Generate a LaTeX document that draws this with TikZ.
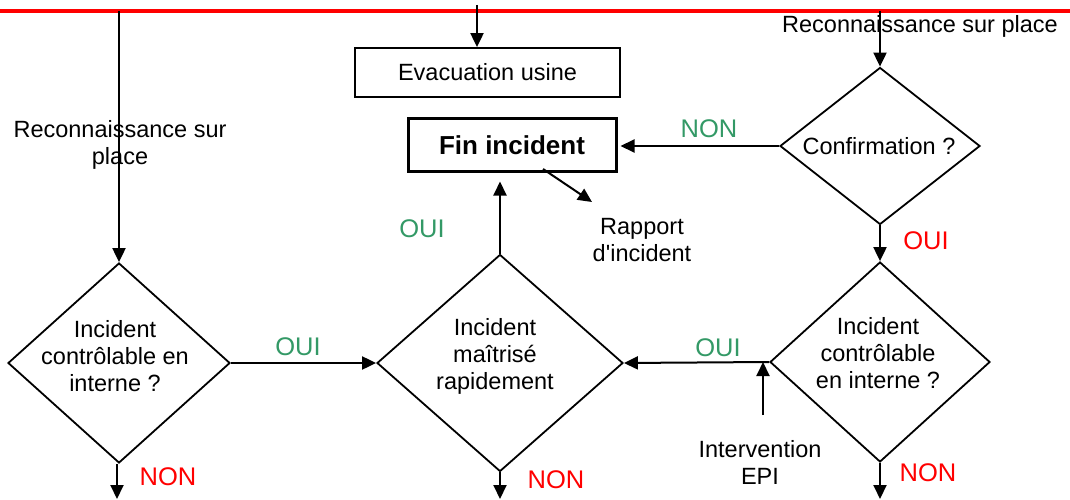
\documentclass[tikz,border=0pt]{standalone}
\usepackage{fontspec}
\setmainfont{Liberation Sans}
\usetikzlibrary{arrows.meta,shapes.geometric}
\definecolor{ouigreen}{RGB}{51,153,102}
\begin{document}
\begin{tikzpicture}[x=1pt,y=-1pt,
  every node/.style={font=\fontsize{23.5}{27}\selectfont, inner sep=0pt},
  flow/.style={line width=2pt, -{Triangle[length=14pt,width=13pt]}},
  decision/.style={draw, shape=diamond, line width=1.8pt, minimum width=#1},
  stepbox/.style={draw, rectangle, line width=1.8pt},
  yes/.style={text=ouigreen, font=\fontsize{25.5}{28}\selectfont},
  no/.style={text=red, font=\fontsize{25.5}{28}\selectfont},
  yesred/.style={text=red, font=\fontsize{25.5}{28}\selectfont},
  multi/.style={align=center}]
\useasboundingbox (0,0) rectangle (1070,500);

% alarm line across the top
\draw[red, line width=3.5pt] (0,11) -- (1070,11);

% boxes
\node[stepbox, minimum width=265, minimum height=49] (evac) at (487.5,72.5) {Evacuation usine};
\node[stepbox, line width=3pt, minimum width=208, minimum height=52,
      font=\fontsize{26}{28}\bfseries] (fin) at (512,145) {Fin incident};

% decisions
\node[decision=200, minimum height=157] (conf) at (880,146) {};
\node at (879,146) {Confirmation ?};

\node[decision=222, minimum height=200] (d1) at (119,363) {};
\node[multi] (d1t) at (115,356) {Incident\\contrôlable en\\interne ?};

\node[decision=246, minimum height=217] (d2) at (500,363) {};
\node[multi] (d2t) at (495,356) {Incident\\maîtrisé\\rapidement};

\node[decision=220, minimum height=200] (d3) at (880,362) {};
\node[multi] (d3t) at (878,353) {Incident\\contrôlable\\en interne ?};

% free ends
\coordinate (srcL) at (119,11);
\coordinate (srcM) at (477,5);
\coordinate (srcR) at (880,11);
\coordinate (rapStart) at (543,169);
\coordinate (rapEnd) at (592,202);
\coordinate (epiStart) at (763,415);
\coordinate (out1) at (117,499);
\coordinate (out2) at (500,499);
\coordinate (out3) at (880,499);

% side texts
\node[multi] (reconL) at (120,145) {Reconnaissance sur\\place};
\node (reconR) at (920,26) {Reconnaissance sur place};
\node[multi] (rapport) at (642,240) {Rapport\\d\textquotesingle incident};
\node[multi] (epi) at (760,462) {Intervention\\EPI};

% connectors
\draw[flow] (srcM) -- (srcM |- evac.north);
\draw[flow] (srcL) -- (d1.north);
\draw[flow] (srcR) -- (conf.north);
\draw[flow, shorten >=3pt] (conf.west) -- (conf.west -| fin.east);
\draw[flow] (conf.south) -- (d3.north);
\draw[flow] (d3.west) -- (d2.east);
\draw[flow] (epiStart) -- (epiStart |- d3.west);
\draw[flow] (d1.east) -- (d2.west);
\draw[flow, shorten >=9pt] (d2.north) -- (d2.north |- fin.south);
\draw[flow] (rapStart) -- (rapEnd);
\draw[flow] (d1.south -| out1) -- (out1);
\draw[flow] (d2.south) -- (out2);
\draw[flow] (d3.south) -- (out3);

% branch labels
\node[yes] at (709,129) {NON};
\node[yesred] at (926,241) {OUI};
\node[yes] at (718,348) {OUI};
\node[yes] at (298,347) {OUI};
\node[yes] at (422,229) {OUI};
\node[no] at (168,477) {NON};
\node[no] at (556,480) {NON};
\node[no] at (928,473) {NON};
\end{tikzpicture}
\end{document}
